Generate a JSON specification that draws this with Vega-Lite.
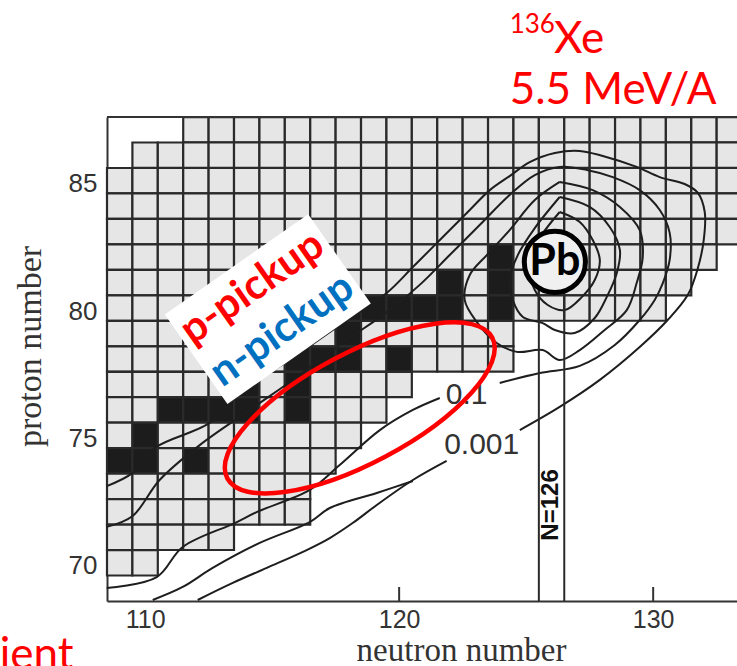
{
"$schema":"https://vega.github.io/schema/vega-lite/v6.json",
"width":630,"height":484,"autosize":"none",
"padding":{"left":107,"top":117,"right":0,"bottom":65},
"background":"#ffffff",
"view":{"stroke":null},
"datasets":{
"cells":[
{"N":112,"Z":87},{"N":113,"Z":87},{"N":114,"Z":87},{"N":115,"Z":87},{"N":116,"Z":87},{"N":117,"Z":87},{"N":118,"Z":87},{"N":119,"Z":87},{"N":120,"Z":87},{"N":121,"Z":87},{"N":122,"Z":87},{"N":123,"Z":87},{"N":124,"Z":87},{"N":125,"Z":87},{"N":126,"Z":87},{"N":127,"Z":87},{"N":128,"Z":87},{"N":129,"Z":87},{"N":130,"Z":87},{"N":131,"Z":87},{"N":132,"Z":87},{"N":133,"Z":87},
{"N":110,"Z":86},{"N":111,"Z":86},{"N":112,"Z":86},{"N":113,"Z":86},{"N":114,"Z":86},{"N":115,"Z":86},{"N":116,"Z":86},{"N":117,"Z":86},{"N":118,"Z":86},{"N":119,"Z":86},{"N":120,"Z":86},{"N":121,"Z":86},{"N":122,"Z":86},{"N":123,"Z":86},{"N":124,"Z":86},{"N":125,"Z":86},{"N":126,"Z":86},{"N":127,"Z":86},{"N":128,"Z":86},{"N":129,"Z":86},{"N":130,"Z":86},{"N":131,"Z":86},{"N":132,"Z":86},{"N":133,"Z":86},
{"N":109,"Z":85},{"N":110,"Z":85},{"N":111,"Z":85},{"N":112,"Z":85},{"N":113,"Z":85},{"N":114,"Z":85},{"N":115,"Z":85},{"N":116,"Z":85},{"N":117,"Z":85},{"N":118,"Z":85},{"N":119,"Z":85},{"N":120,"Z":85},{"N":121,"Z":85},{"N":122,"Z":85},{"N":123,"Z":85},{"N":124,"Z":85},{"N":125,"Z":85},{"N":126,"Z":85},{"N":127,"Z":85},{"N":128,"Z":85},{"N":129,"Z":85},{"N":130,"Z":85},{"N":131,"Z":85},{"N":132,"Z":85},{"N":133,"Z":85},
{"N":109,"Z":84},{"N":110,"Z":84},{"N":111,"Z":84},{"N":112,"Z":84},{"N":113,"Z":84},{"N":114,"Z":84},{"N":115,"Z":84},{"N":116,"Z":84},{"N":117,"Z":84},{"N":118,"Z":84},{"N":119,"Z":84},{"N":120,"Z":84},{"N":121,"Z":84},{"N":122,"Z":84},{"N":123,"Z":84},{"N":124,"Z":84},{"N":125,"Z":84},{"N":126,"Z":84},{"N":127,"Z":84},{"N":128,"Z":84},{"N":129,"Z":84},{"N":130,"Z":84},{"N":131,"Z":84},{"N":132,"Z":84},{"N":133,"Z":84},
{"N":109,"Z":83},{"N":110,"Z":83},{"N":111,"Z":83},{"N":112,"Z":83},{"N":113,"Z":83},{"N":114,"Z":83},{"N":115,"Z":83},{"N":116,"Z":83},{"N":117,"Z":83},{"N":118,"Z":83},{"N":119,"Z":83},{"N":120,"Z":83},{"N":121,"Z":83},{"N":122,"Z":83},{"N":123,"Z":83},{"N":124,"Z":83},{"N":125,"Z":83},{"N":126,"Z":83},{"N":127,"Z":83},{"N":128,"Z":83},{"N":129,"Z":83},{"N":130,"Z":83},{"N":131,"Z":83},{"N":132,"Z":83},{"N":133,"Z":83},
{"N":109,"Z":82},{"N":110,"Z":82},{"N":111,"Z":82},{"N":112,"Z":82},{"N":113,"Z":82},{"N":114,"Z":82},{"N":115,"Z":82},{"N":116,"Z":82},{"N":117,"Z":82},{"N":118,"Z":82},{"N":119,"Z":82},{"N":120,"Z":82},{"N":121,"Z":82},{"N":122,"Z":82},{"N":123,"Z":82},{"N":124,"Z":82,"s":1},{"N":125,"Z":82},{"N":126,"Z":82},{"N":127,"Z":82},{"N":128,"Z":82},{"N":129,"Z":82},{"N":130,"Z":82},{"N":131,"Z":82},{"N":132,"Z":82},
{"N":109,"Z":81},{"N":110,"Z":81},{"N":111,"Z":81},{"N":112,"Z":81},{"N":113,"Z":81},{"N":114,"Z":81},{"N":115,"Z":81},{"N":116,"Z":81},{"N":117,"Z":81},{"N":118,"Z":81},{"N":119,"Z":81},{"N":120,"Z":81},{"N":121,"Z":81},{"N":122,"Z":81,"s":1},{"N":123,"Z":81},{"N":124,"Z":81,"s":1},{"N":125,"Z":81},{"N":126,"Z":81},{"N":127,"Z":81},{"N":128,"Z":81},{"N":129,"Z":81},{"N":130,"Z":81},{"N":131,"Z":81},
{"N":109,"Z":80},{"N":110,"Z":80},{"N":111,"Z":80},{"N":112,"Z":80},{"N":113,"Z":80},{"N":114,"Z":80},{"N":115,"Z":80},{"N":116,"Z":80,"s":1},{"N":117,"Z":80},{"N":118,"Z":80,"s":1},{"N":119,"Z":80,"s":1},{"N":120,"Z":80,"s":1},{"N":121,"Z":80,"s":1},{"N":122,"Z":80,"s":1},{"N":123,"Z":80},{"N":124,"Z":80,"s":1},{"N":125,"Z":80},{"N":126,"Z":80},{"N":127,"Z":80},{"N":128,"Z":80},{"N":129,"Z":80},{"N":130,"Z":80},
{"N":109,"Z":79},{"N":110,"Z":79},{"N":111,"Z":79},{"N":112,"Z":79},{"N":113,"Z":79},{"N":114,"Z":79},{"N":115,"Z":79},{"N":116,"Z":79},{"N":117,"Z":79},{"N":118,"Z":79,"s":1},{"N":119,"Z":79},{"N":120,"Z":79},{"N":121,"Z":79},{"N":122,"Z":79},{"N":123,"Z":79},{"N":124,"Z":79},
{"N":109,"Z":78},{"N":110,"Z":78},{"N":111,"Z":78},{"N":112,"Z":78},{"N":113,"Z":78},{"N":114,"Z":78,"s":1},{"N":115,"Z":78},{"N":116,"Z":78,"s":1},{"N":117,"Z":78,"s":1},{"N":118,"Z":78,"s":1},{"N":119,"Z":78},{"N":120,"Z":78,"s":1},{"N":121,"Z":78},{"N":122,"Z":78},{"N":123,"Z":78},{"N":124,"Z":78},
{"N":109,"Z":77},{"N":110,"Z":77},{"N":111,"Z":77},{"N":112,"Z":77},{"N":113,"Z":77},{"N":114,"Z":77,"s":1},{"N":115,"Z":77},{"N":116,"Z":77,"s":1},{"N":117,"Z":77},{"N":118,"Z":77},{"N":119,"Z":77},{"N":120,"Z":77},
{"N":109,"Z":76},{"N":110,"Z":76},{"N":111,"Z":76,"s":1},{"N":112,"Z":76,"s":1},{"N":113,"Z":76,"s":1},{"N":114,"Z":76,"s":1},{"N":115,"Z":76},{"N":116,"Z":76,"s":1},{"N":117,"Z":76},{"N":118,"Z":76},{"N":119,"Z":76},
{"N":109,"Z":75},{"N":110,"Z":75,"s":1},{"N":111,"Z":75},{"N":112,"Z":75},{"N":113,"Z":75},{"N":114,"Z":75},{"N":115,"Z":75},{"N":116,"Z":75},{"N":117,"Z":75},{"N":118,"Z":75},
{"N":109,"Z":74,"s":1},{"N":110,"Z":74,"s":1},{"N":111,"Z":74},{"N":112,"Z":74,"s":1},{"N":113,"Z":74},{"N":114,"Z":74},{"N":115,"Z":74},{"N":116,"Z":74},{"N":117,"Z":74},
{"N":109,"Z":73},{"N":110,"Z":73},{"N":111,"Z":73},{"N":112,"Z":73},{"N":113,"Z":73},{"N":114,"Z":73},{"N":115,"Z":73},{"N":116,"Z":73},
{"N":109,"Z":72},{"N":110,"Z":72},{"N":111,"Z":72},{"N":112,"Z":72},{"N":113,"Z":72},{"N":114,"Z":72},{"N":115,"Z":72},{"N":116,"Z":72},
{"N":109,"Z":71},{"N":110,"Z":71},{"N":111,"Z":71},{"N":112,"Z":71},{"N":113,"Z":71},
{"N":109,"Z":70},{"N":110,"Z":70}
],
"lines":[
{"k":"a","i":0,"N":112.07,"Z":68.54},{"k":"a","i":1,"N":113.45,"Z":69.21},{"k":"a","i":2,"N":114.79,"Z":69.80},{"k":"a","i":3,"N":116.36,"Z":70.50},{"k":"a","i":4,"N":117.27,"Z":70.97},{"k":"a","i":5,"N":118.17,"Z":71.56},{"k":"a","i":6,"N":119.12,"Z":72.27},{"k":"a","i":7,"N":120.54,"Z":73.25},{"k":"a","i":8,"N":121.87,"Z":74.00},
{"k":"b","i":0,"N":110.30,"Z":68.54},{"k":"b","i":1,"N":111.48,"Z":69.05},{"k":"b","i":2,"N":112.66,"Z":69.80},{"k":"b","i":3,"N":114.51,"Z":70.78},{"k":"b","i":4,"N":116.48,"Z":71.60},{"k":"b","i":5,"N":117.27,"Z":72.15},{"k":"b","i":6,"N":119.12,"Z":72.74},{"k":"b","i":7,"N":120.54,"Z":73.21},
{"k":"c","i":0,"N":124.75,"Z":75.21},{"k":"c","i":1,"N":126.32,"Z":76.12},{"k":"c","i":2,"N":127.90,"Z":77.18},{"k":"c","i":3,"N":129.47,"Z":78.47},{"k":"c","i":4,"N":130.57,"Z":79.53},{"k":"c","i":5,"N":131.36,"Z":80.51},{"k":"c","i":6,"N":131.76,"Z":81.57},{"k":"c","i":7,"N":131.99,"Z":82.67},{"k":"c","i":8,"N":132.03,"Z":83.77},{"k":"c","i":9,"N":131.76,"Z":84.52},{"k":"c","i":10,"N":131.24,"Z":84.87},{"k":"c","i":11,"N":130.26,"Z":85.14},{"k":"c","i":12,"N":129.35,"Z":85.54},{"k":"c","i":13,"N":128.02,"Z":85.97},{"k":"c","i":14,"N":127.11,"Z":86.17},{"k":"c","i":15,"N":126.13,"Z":86.09},{"k":"c","i":16,"N":125.14,"Z":85.73},{"k":"c","i":17,"N":124.35,"Z":85.18},{"k":"c","i":18,"N":123.57,"Z":84.63},{"k":"c","i":19,"N":122.78,"Z":83.85},{"k":"c","i":20,"N":122.27,"Z":83.34},{"k":"c","i":21,"N":121.48,"Z":82.55},{"k":"c","i":22,"N":120.54,"Z":81.61},{"k":"c","i":23,"N":119.51,"Z":80.59},{"k":"c","i":24,"N":117.66,"Z":79.33},{"k":"c","i":25,"N":115.69,"Z":77.96},{"k":"c","i":26,"N":113.72,"Z":76.67},{"k":"c","i":27,"N":112.54,"Z":75.49},{"k":"c","i":28,"N":110.38,"Z":74.51},{"k":"c","i":29,"N":109.51,"Z":73.53},{"k":"c","i":30,"N":108.49,"Z":73.01},
{"k":"d","i":0,"N":108.49,"Z":69.01},{"k":"d","i":1,"N":110.46,"Z":69.44},{"k":"d","i":2,"N":111.48,"Z":70.62},{"k":"d","i":3,"N":113.53,"Z":71.56},{"k":"d","i":4,"N":114.39,"Z":71.99},{"k":"d","i":5,"N":116.48,"Z":72.86},{"k":"d","i":6,"N":117.66,"Z":73.84},{"k":"d","i":7,"N":119.24,"Z":75.21},{"k":"d","i":8,"N":120.54,"Z":76.00},{"k":"d","i":9,"N":121.60,"Z":76.47},
{"k":"e","i":0,"N":123.96,"Z":77.06},{"k":"e","i":1,"N":125.54,"Z":77.45},{"k":"e","i":2,"N":127.11,"Z":77.73},{"k":"e","i":3,"N":128.49,"Z":78.55},{"k":"e","i":4,"N":129.47,"Z":79.53},{"k":"e","i":5,"N":130.06,"Z":80.32},{"k":"e","i":6,"N":130.38,"Z":80.98},{"k":"e","i":7,"N":130.65,"Z":81.89},{"k":"e","i":8,"N":130.65,"Z":82.95},{"k":"e","i":9,"N":130.26,"Z":83.85},{"k":"e","i":10,"N":129.47,"Z":84.63},{"k":"e","i":11,"N":128.41,"Z":85.14},{"k":"e","i":12,"N":127.39,"Z":85.42},{"k":"e","i":13,"N":126.32,"Z":85.54},{"k":"e","i":14,"N":125.34,"Z":85.22},{"k":"e","i":15,"N":124.35,"Z":84.44},{"k":"e","i":16,"N":123.17,"Z":83.26},{"k":"e","i":17,"N":121.99,"Z":82.08},{"k":"e","i":18,"N":120.81,"Z":80.91},{"k":"e","i":19,"N":119.63,"Z":79.92},{"k":"e","i":20,"N":117.66,"Z":78.55},{"k":"e","i":21,"N":116.09,"Z":77.37},{"k":"e","i":22,"N":114.12,"Z":76.00},{"k":"e","i":23,"N":112.15,"Z":74.62},{"k":"e","i":24,"N":110.57,"Z":73.25},{"k":"e","i":25,"N":109.51,"Z":71.84},{"k":"e","i":26,"N":108.49,"Z":71.41},
{"k":"f","i":0,"N":126.32,"Z":84.95},{"k":"f","i":1,"N":127.62,"Z":84.63},{"k":"f","i":2,"N":128.69,"Z":83.97},{"k":"f","i":3,"N":129.47,"Z":83.06},{"k":"f","i":4,"N":129.59,"Z":82.00},{"k":"f","i":5,"N":129.35,"Z":80.98},{"k":"f","i":6,"N":128.96,"Z":79.92},{"k":"f","i":7,"N":128.09,"Z":79.14},{"k":"f","i":8,"N":127.11,"Z":78.35},{"k":"f","i":9,"N":126.32,"Z":77.96},{"k":"f","i":10,"N":125.65,"Z":78.35},{"k":"f","i":11,"N":124.63,"Z":78.28},{"k":"f","i":12,"N":123.84,"Z":78.63},{"k":"f","i":13,"N":123.06,"Z":79.45},{"k":"f","i":14,"N":122.58,"Z":80.32},{"k":"f","i":15,"N":122.78,"Z":81.30},{"k":"f","i":16,"N":123.45,"Z":82.08},{"k":"f","i":17,"N":124.35,"Z":83.06},{"k":"f","i":18,"N":125.34,"Z":84.24},{"k":"f","i":19,"N":126.32,"Z":84.95},
{"k":"g","i":0,"N":126.32,"Z":84.36},{"k":"g","i":1,"N":127.50,"Z":83.97},{"k":"g","i":2,"N":128.29,"Z":83.18},{"k":"g","i":3,"N":128.69,"Z":82.28},{"k":"g","i":4,"N":128.57,"Z":81.38},{"k":"g","i":5,"N":128.17,"Z":80.43},{"k":"g","i":6,"N":127.70,"Z":79.61},{"k":"g","i":7,"N":126.91,"Z":79.02},{"k":"g","i":8,"N":126.13,"Z":79.14},{"k":"g","i":9,"N":125.65,"Z":79.41},{"k":"g","i":10,"N":124.87,"Z":79.65},{"k":"g","i":11,"N":124.47,"Z":80.32},{"k":"g","i":12,"N":124.35,"Z":81.10},{"k":"g","i":13,"N":124.67,"Z":82.08},{"k":"g","i":14,"N":125.34,"Z":83.14},{"k":"g","i":15,"N":126.32,"Z":84.36},
{"k":"h","i":0,"N":126.32,"Z":83.77},{"k":"h","i":1,"N":127.11,"Z":83.38},{"k":"h","i":2,"N":127.62,"Z":82.67},{"k":"h","i":3,"N":127.90,"Z":81.89},{"k":"h","i":4,"N":127.70,"Z":81.10},{"k":"h","i":5,"N":127.19,"Z":80.43},{"k":"h","i":6,"N":126.52,"Z":79.92},{"k":"h","i":7,"N":125.85,"Z":80.12},{"k":"h","i":8,"N":125.34,"Z":80.71},{"k":"h","i":9,"N":125.14,"Z":81.57},{"k":"h","i":10,"N":125.42,"Z":82.55},{"k":"h","i":11,"N":126.32,"Z":83.77}
],
"shell":[{"N":125.5,"Z":68.5,"Z2":80.5},{"N":126.5,"Z":68.5,"Z2":80.5}],
"ticks":[{"N":120,"Z":68.5,"Z2":69.05},{"N":130,"Z":68.5,"Z2":69.05}],
"frame":[{"N":108.5,"N2":133.3,"Z":87.5}],
"notes":[
{"t":"box","N":114.83,"Z":79.96},
{"t":"ellipse","N":118.45,"Z":76.08},
{"t":"Pb","N":126.13,"Z":81.81},
{"t":"p-pickup","N":114.22,"Z":80.80},
{"t":"n-pickup","N":115.39,"Z":79.14},
{"t":"0.1","N":122.66,"Z":76.59},
{"t":"0.001","N":123.25,"Z":74.62},
{"t":"N=126","N":125.99,"Z":72.27},
{"t":"136","N":124.35,"Z":90.80},
{"t":"Xe","N":126.10,"Z":90.01},
{"t":"5.5 MeV/A","N":124.35,"Z":88.01},
{"t":"ient","N":104.28,"Z":65.83}
]
},
"encoding":{
"x":{"field":"N","type":"quantitative","scale":{"domain":[108.5,133.3],"nice":false,"zero":false},
"axis":{"values":[110,120,130],"title":"neutron number","ticks":false,"tickSize":0,"labelPadding":6,"labelFont":"Liberation Sans","labelFontSize":25,"labelColor":"#333333","labelFlush":false,"labelOverlap":false,"domainColor":"#333333","domainWidth":2,"grid":false,"titleFont":"Liberation Serif","titleFontSize":33,"titleFontWeight":"normal","titleColor":"#333333","titleX":354,"titleY":59,"titleBaseline":"alphabetic","titleAlign":"center"}},
"y":{"field":"Z","type":"quantitative","scale":{"domain":[68.5,87.5],"nice":false,"zero":false},
"axis":{"values":[70,75,80,85],"title":"proton number","ticks":false,"tickSize":0,"labelPadding":10,"labelOffset":3,"labelFont":"Liberation Sans","labelFontSize":26,"labelColor":"#333333","labelFlush":false,"labelOverlap":false,"domainColor":"#333333","domainWidth":2,"grid":false,"titleFont":"Liberation Serif","titleFontSize":34,"titleFontWeight":"normal","titleColor":"#333333","titleX":-67,"titleY":229,"titleAngle":270,"titleBaseline":"alphabetic","titleAlign":"center"}}
},
"layer":[
{"data":{"name":"cells"},"mark":{"type":"point","shape":"square","size":645,"filled":true,"opacity":1,"stroke":"#2a2a2a","strokeWidth":2.2},
"encoding":{"fill":{"condition":{"test":"datum.s == 1","value":"#1c1c1c"},"value":"#e6e6e6"}}},
{"data":{"name":"lines"},"mark":{"type":"line","interpolate":"catmull-rom","strokeWidth":2,"color":"#1e1e1e"},
"encoding":{"detail":{"field":"k"},"order":{"field":"i","type":"quantitative"}}},
{"data":{"name":"shell"},"mark":{"type":"rule","color":"#2a2a2a","strokeWidth":2},
"encoding":{"y2":{"field":"Z2"}}},
{"data":{"name":"ticks"},"mark":{"type":"rule","color":"#333333","strokeWidth":2},
"encoding":{"y2":{"field":"Z2"}}},
{"data":{"name":"frame"},"mark":{"type":"rule","color":"#333333","strokeWidth":2},
"encoding":{"x2":{"field":"N2"}}},
{"data":{"name":"notes"},"transform":[{"filter":"datum.t == '0.1' || datum.t == '0.001'"}],
"mark":{"type":"text","font":"Liberation Sans","fontSize":30,"color":"#333333","align":"center","baseline":"middle"},
"encoding":{"text":{"field":"t"}}},
{"data":{"name":"notes"},"transform":[{"filter":"datum.t == 'N=126'"}],
"mark":{"type":"text","font":"Liberation Sans","fontSize":24,"fontWeight":"bold","color":"#111111","align":"center","baseline":"middle","angle":270},
"encoding":{"text":{"field":"t"}}},
{"data":{"name":"notes"},"transform":[{"filter":"datum.t == 'box'"}],
"mark":{"type":"point","shape":"M-1,-0.624L1,-0.624L1,0.624L-1,0.624Z","size":30625,"angle":325,"filled":true,"fill":"#ffffff","strokeWidth":0,"opacity":1}},
{"data":{"name":"notes"},"transform":[{"filter":"datum.t == 'p-pickup'"}],
"mark":{"type":"text","font":"Lato","fontSize":42,"fontWeight":"bold","color":"#ff0000","align":"center","baseline":"middle","angle":325},
"encoding":{"text":{"field":"t"}}},
{"data":{"name":"notes"},"transform":[{"filter":"datum.t == 'n-pickup'"}],
"mark":{"type":"text","font":"Lato","fontSize":42,"fontWeight":"bold","color":"#0070c0","align":"center","baseline":"middle","angle":325},
"encoding":{"text":{"field":"t"}}},
{"data":{"name":"notes"},"transform":[{"filter":"datum.t == 'ellipse'"}],
"mark":{"type":"point","shape":"M1,0C1,0.2027 0.5523,0.367 0,0.367C-0.5523,0.367 -1,0.2027 -1,0C-1,-0.2027 -0.5523,-0.367 0,-0.367C0.5523,-0.367 1,-0.2027 1,0Z","size":90000,"angle":332,"filled":false,"stroke":"#ff0000","strokeWidth":4.5,"opacity":1}},
{"data":{"name":"notes"},"transform":[{"filter":"datum.t == 'Pb'"}],
"mark":{"type":"point","shape":"circle","size":3739,"filled":true,"fill":"#f0f0f0","stroke":"#000000","strokeWidth":5,"opacity":1}},
{"data":{"name":"notes"},"transform":[{"filter":"datum.t == 'Pb'"}],
"mark":{"type":"text","font":"Lato","fontSize":43,"fontWeight":"bold","color":"#000000","align":"center","baseline":"middle"},
"encoding":{"text":{"field":"t"}}},
{"data":{"name":"notes"},"transform":[{"filter":"datum.t == '136'"}],
"mark":{"type":"text","font":"Lato","fontSize":26,"color":"#ff0000","align":"left","baseline":"alphabetic"},
"encoding":{"text":{"field":"t"}}},
{"data":{"name":"notes"},"transform":[{"filter":"datum.t == 'Xe' || datum.t == '5.5 MeV/A' || datum.t == 'ient'"}],
"mark":{"type":"text","font":"Lato","fontSize":44,"color":"#ff0000","align":"left","baseline":"alphabetic"},
"encoding":{"text":{"field":"t"}}}
]
}
